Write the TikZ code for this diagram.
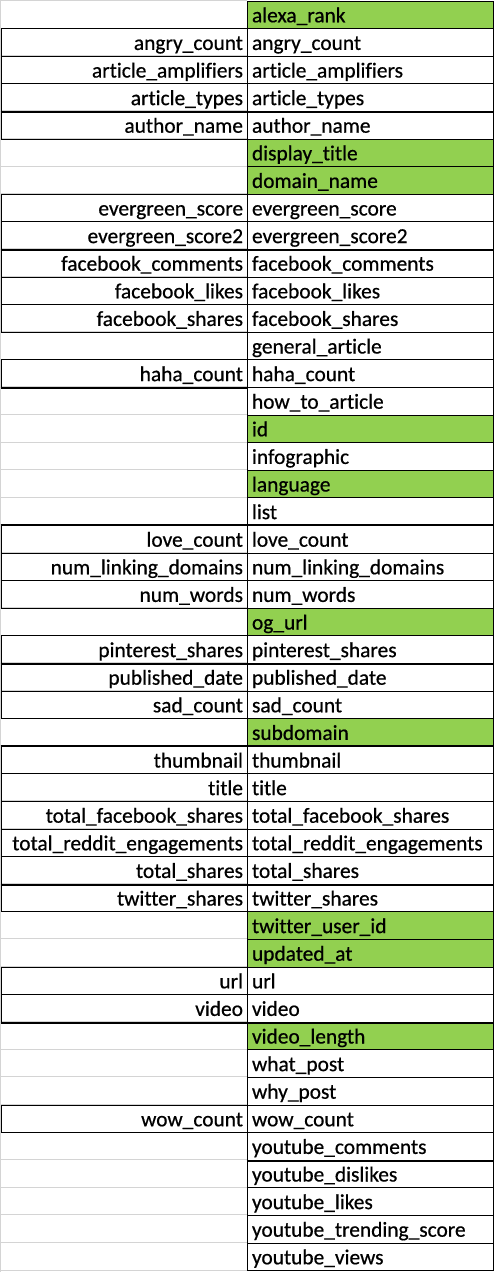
\documentclass[tikz,border=0pt]{standalone}
\usepackage{fontspec}
\setmainfont{Carlito}[Ligatures=NoCommon, FakeBold=0.6]
\usepackage{tikz}
\definecolor{sheet_green}{HTML}{92D050}
\definecolor{grid_gray}{HTML}{D4D4D4}
\tikzset{
  cell_font/.style = {font=\fontsize{21.4pt}{25pt}\selectfont},
  cell_size/.style = {text height=21.3pt, text depth=6.3pt, inner ysep=0pt},
  cell_border/.style = {draw, line width=1pt}
}
\tikzset{
  cell/.style = {cell_font, cell_size, cell_border, anchor=north west},
  key_cell/.style = {cell, inner xsep=4pt, text width=238pt, align=right},
  field_cell/.style = {cell, inner xsep=5pt, text width=236pt, align=left},
  match/.style = {fill=sheet_green},
  gridline/.style = {draw=grid_gray, line width=1pt},
  split/.style = {line width=2pt}
}
\begin{document}
\begin{tikzpicture}[x=1pt, y=-1pt]{
        \useasboundingbox (0,0) rectangle (494,1272);

        % Sheet grid behind the cells
        \foreach \r in {0,...,46}
            \draw[gridline] (0,{0.5+27.6*\r}) -- (246.5,{0.5+27.6*\r});
        \draw[gridline] (0.5,0) -- (0.5,1272);

        % All rows
        \foreach \field/\kind [count=\i] in {
            alexa\_rank/g, angry\_count/b, article\_amplifiers/b, article\_types/b,
            author\_name/b, display\_title/g, domain\_name/g, evergreen\_score/b,
            evergreen\_score2/b, facebook\_comments/b, facebook\_likes/b,
            facebook\_shares/b, general\_article/r, haha\_count/b, how\_to\_article/r,
            id/g, infographic/r, language/g, list/r, love\_count/b,
            num\_linking\_domains/b, num\_words/b, og\_url/g, pinterest\_shares/b,
            published\_date/b, sad\_count/b, subdomain/g, thumbnail/b, title/b,
            total\_facebook\_shares/b, total\_reddit\_engagements/b, total\_shares/b,
            twitter\_shares/b, twitter\_user\_id/g, updated\_at/g, url/b, video/b,
            video\_length/g, what\_post/r, why\_post/r, wow\_count/b,
            youtube\_comments/r, youtube\_dislikes/r, youtube\_likes/r,
            youtube\_trending\_score/r, youtube\_views/r}{
            \pgfmathsetmacro\rowtop{0.5+27.6*(\i-1)}
            \if\kind b
                \node[key_cell] (key_\i) at (0.5,\rowtop) {\field};
            \fi
            \if\kind g
                \node[field_cell, match] (field_\i) at (246.5,\rowtop) {\field};
            \else
                \node[field_cell] (field_\i) at (246.5,\rowtop) {\field};
            \fi
        }

        % Heavier row breaks
        \draw[split] (key_4.south west)--(field_4.south east);
        \draw[split] (key_9.south west)--(field_9.south east);
        \draw[split] (key_14.south west)--(key_14.south east);
        \draw[split] (key_20.north west)--(field_20.north east);
        \draw[split] (key_24.south west)--(field_24.south east);
        \draw[split] (key_28.north west)--(field_28.north east);
        \draw[split] (key_32.south west)--(field_32.south east);
        \draw[split] (key_37.south west)--(field_37.south east);
        \draw[split] (field_42.south west)--(field_42.south east);
        }
\end{tikzpicture}
\end{document}
